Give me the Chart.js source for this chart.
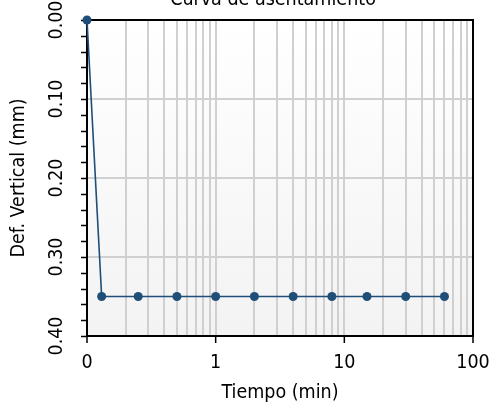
<!DOCTYPE html>
<html>
<head>
<meta charset="utf-8">
<script src="https://cdn.jsdelivr.net/npm/chart.js@4"></script>
<style>
  html, body { margin: 0; padding: 0; background: #ffffff; }
  canvas { display: block; }
</style>
</head>
<body>
<canvas id="chart" width="491" height="404"></canvas>
<script>
// Settlement readings: elapsed time (min) and vertical deformation (mm)
const times = [0.1, 0.13, 0.25, 0.5, 1, 2, 4, 8, 15, 30, 60];
const deformations = [0.00, 0.35, 0.35, 0.35, 0.35, 0.35, 0.35, 0.35, 0.35, 0.35, 0.35];

// Axis tick labels
const xTickValues = [0.1, 1, 10, 100];
const xTickLabels = ['0', '1', '10', '100'];
const yTickValues = [0, 0.1, 0.2, 0.3, 0.4];
const yTickLabels = ['0.00', '0.10', '0.20', '0.30', '0.40'];

const titleText = 'Curva de asentamiento';
const xTitle = 'Tiempo (min)';
const yTitle = 'Def. Vertical (mm)';

const FONT = '"DejaVu Sans Condensed", "Noto Sans", "DejaVu Sans", sans-serif';
const LINE_COLOR = '#1f4e79';
const GRID_COLOR = '#d0d0d0';

// Log-decade gridlines: 1..9 × 10^n between 0.1 and 100
const logGrid = [];
for (let e = -1; e <= 1; e++) {
  for (let m = 1; m <= 9; m++) logGrid.push(+(m * Math.pow(10, e)).toPrecision(3));
}
logGrid.push(100);

const frame = {
  id: 'frame',
  beforeDraw(chart) {
    const { ctx, chartArea: a } = chart;
    const g = ctx.createLinearGradient(0, a.top, 0, a.bottom);
    g.addColorStop(0, '#ffffff');
    g.addColorStop(1, '#f3f3f3');
    ctx.save();
    ctx.fillStyle = g;
    ctx.fillRect(a.left, a.top, a.right - a.left, a.bottom - a.top);
    ctx.restore();
  },
  beforeDatasetsDraw(chart) {
    const { ctx, chartArea: a, scales } = chart;
    ctx.save();
    ctx.strokeStyle = '#000000';
    ctx.lineWidth = 2;
    ctx.strokeRect(a.left, a.top, a.right - a.left, a.bottom - a.top);
    ctx.lineWidth = 1.5;
    ctx.beginPath();
    // y minor ticks every 0.02 mm, pointing outward
    for (let i = 0; i <= 20; i++) {
      const y = Math.round(scales.y.getPixelForValue(i * 0.02)) + 0.5;
      ctx.moveTo(a.left - 6, y);
      ctx.lineTo(a.left, y);
    }
    // x major ticks at each decade
    xTickValues.forEach(v => {
      const x = scales.x.getPixelForValue(v);
      ctx.moveTo(x, a.bottom);
      ctx.lineTo(x, a.bottom + 7);
    });
    ctx.stroke();
    ctx.restore();
  },
  afterDraw(chart) {
    const { ctx, chartArea: a, scales } = chart;
    ctx.save();
    ctx.fillStyle = '#000000';
    ctx.font = '19.5px ' + FONT;

    // title
    ctx.textAlign = 'center';
    ctx.textBaseline = 'alphabetic';
    ctx.fillText(titleText, 273, 4.5);

    // x tick labels
    ctx.textBaseline = 'middle';
    xTickValues.forEach((v, i) => {
      ctx.fillText(xTickLabels[i], scales.x.getPixelForValue(v), 363);
    });

    // x title
    ctx.fillText(xTitle, (a.left + a.right) / 2, 393);

    // y tick labels, rotated
    yTickValues.forEach((v, i) => {
      ctx.save();
      ctx.translate(57, scales.y.getPixelForValue(v));
      ctx.rotate(-Math.PI / 2);
      ctx.fillText(yTickLabels[i], 0, 0);
      ctx.restore();
    });

    // y title
    ctx.save();
    ctx.translate(19, (a.top + a.bottom) / 2);
    ctx.rotate(-Math.PI / 2);
    ctx.fillText(yTitle, 0, 0);
    ctx.restore();

    ctx.restore();
  }
};

new Chart(document.getElementById('chart'), {
  type: 'scatter',
  data: {
    datasets: [{
      data: times.map((t, i) => ({ x: t, y: deformations[i] })),
      showLine: true,
      borderColor: LINE_COLOR,
      backgroundColor: LINE_COLOR,
      borderWidth: 1.6,
      pointRadius: 4.5,
      pointBorderWidth: 0,
      clip: false
    }]
  },
  options: {
    responsive: false,
    animation: false,
    devicePixelRatio: 1,
    layout: { padding: { left: 87, top: 20, right: 18, bottom: 68 } },
    plugins: { legend: { display: false }, tooltip: { enabled: false }, title: { display: false } },
    scales: {
      x: {
        type: 'logarithmic',
        min: 0.1,
        max: 100,
        afterBuildTicks(scale) { scale.ticks = logGrid.map(v => ({ value: v })); },
        ticks: { display: false },
        grid: { color: GRID_COLOR, lineWidth: 2, drawTicks: false },
        border: { display: false }
      },
      y: {
        type: 'linear',
        reverse: true,
        min: 0,
        max: 0.4,
        afterBuildTicks(scale) { scale.ticks = yTickValues.map(v => ({ value: v })); },
        ticks: { display: false },
        grid: { color: GRID_COLOR, lineWidth: 2, drawTicks: false },
        border: { display: false }
      }
    }
  },
  plugins: [frame]
});
</script>
</body>
</html>
